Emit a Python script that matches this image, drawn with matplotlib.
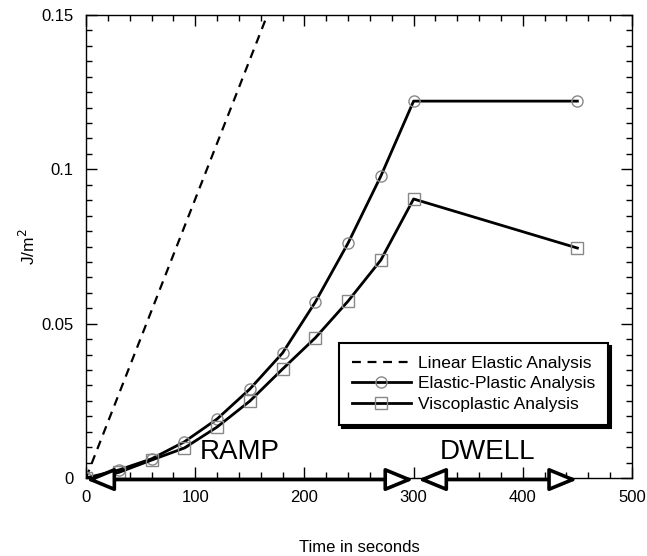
import numpy as np
import matplotlib
matplotlib.use("Agg")
import matplotlib.pyplot as plt
from matplotlib.ticker import MultipleLocator, FormatStrFormatter

plt.rcParams['font.family'] = ['Liberation Sans', 'DejaVu Sans']

# Datos
t = [0, 30, 60, 90, 120, 150, 180, 210, 240, 270, 300, 450]
elastic_plastic = [0, 0.0026, 0.0062, 0.0117, 0.0191, 0.0288, 0.0405,
                   0.0570, 0.0761, 0.0978, 0.1221, 0.1221]
viscoplastic = [0, 0.0018, 0.0058, 0.0097, 0.0165, 0.0249, 0.0353,
                0.0454, 0.0573, 0.0706, 0.0904, 0.0745]
t_lin = [0, 300]
linear_elastic = [0, 0.2710]

fig = plt.figure(figsize=(6.47, 5.56), dpi=100)
ax = fig.add_axes([0.1329, 0.1403, 0.8439, 0.8327])

ax.plot(t_lin, linear_elastic, 'k--', lw=1.6, dashes=(4, 3),
        label='Linear Elastic Analysis')
ax.plot(t, elastic_plastic, color='black', lw=2, marker='o', ms=8,
        mfc='none', mec='#888888', mew=1, label='Elastic-Plastic Analysis')
ax.plot(t, viscoplastic, color='black', lw=2, marker='s', ms=8,
        mfc='none', mec='#888888', mew=1, label='Viscoplastic Analysis')

ax.set_xlim(0, 500)
ax.set_ylim(0, 0.15)
ax.xaxis.set_major_locator(MultipleLocator(100))
ax.xaxis.set_minor_locator(MultipleLocator(20))
ax.yaxis.set_major_locator(MultipleLocator(0.05))
ax.yaxis.set_minor_locator(MultipleLocator(0.005))
ax.yaxis.set_major_formatter(FormatStrFormatter('%g'))
ax.tick_params(which='both', direction='in', top=True, right=True,
               labelsize=12, width=1)
ax.tick_params(which='major', length=8, pad=9)
ax.tick_params(which='minor', length=4)
for s in ax.spines.values():
    s.set_linewidth(1)

ax.set_xlabel('Time in seconds', fontsize=12, labelpad=25)
ax.set_ylabel('J/m$^2$', fontsize=12.5, labelpad=2)

# Flechas RAMP y DWELL
arr = dict(arrowstyle='<|-|>,head_length=0.85,head_width=0.35',
           facecolor='white', edgecolor='black',
           lw=2.6, mutation_scale=20, shrinkA=0, shrinkB=0)
ax.annotate('', xy=(0, -0.0005), xytext=(300, -0.0005), arrowprops=arr,
            annotation_clip=False)
ax.annotate('', xy=(304, -0.0005), xytext=(450, -0.0005), arrowprops=arr,
            annotation_clip=False)
ax.text(141, 0.0085, 'RAMP', fontsize=20, ha='center', va='center')
ax.text(368, 0.0085, 'DWELL', fontsize=20, ha='center', va='center')

leg = ax.legend(loc='lower left', bbox_to_anchor=(0.447, 0.096),
                fontsize=12.5, handlelength=3.4, fancybox=False,
                shadow={'color': 'black', 'alpha': 1}, borderpad=0.75,
                labelspacing=0.3, handletextpad=0.4, framealpha=1)
leg.get_frame().set_edgecolor('black')
leg.get_frame().set_linewidth(1.5)

fig.savefig('out.png', dpi=100)
